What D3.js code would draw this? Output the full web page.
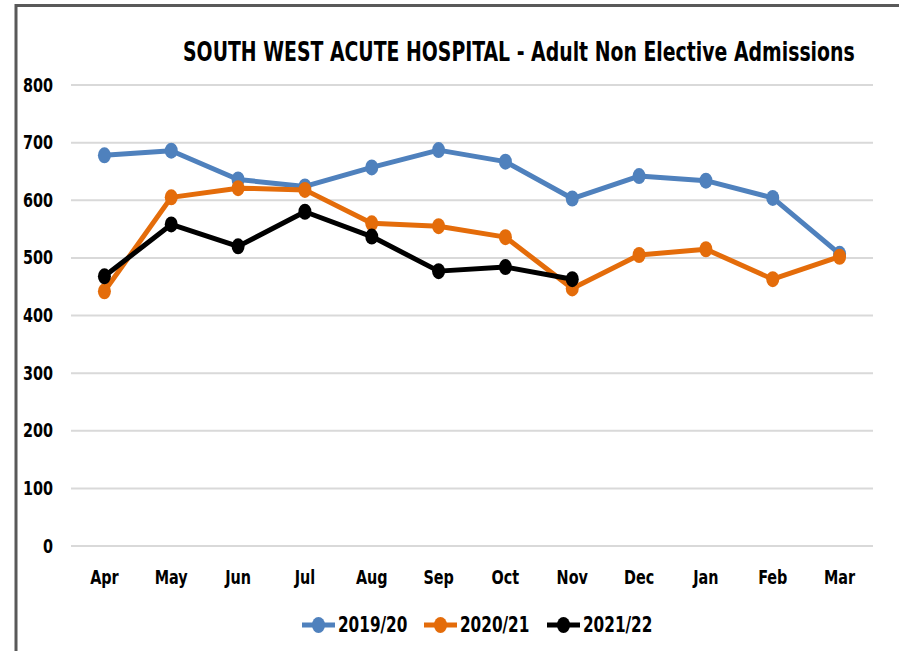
<!DOCTYPE html>
<html>
<head>
<meta charset="utf-8">
<script src="https://cdn.jsdelivr.net/npm/d3@7"></script>
<style>
  body { margin: 0; background: #fff; }
  text { font-family: "Liberation Sans Narrow", "DejaVu Sans Condensed", "Liberation Sans", sans-serif; font-weight: bold; fill: #000; }
</style>
</head>
<body>
<script>
// data
var months = ["Apr", "May", "Jun", "Jul", "Aug", "Sep", "Oct", "Nov", "Dec", "Jan", "Feb", "Mar"];
var seriesNames = ["2019/20", "2020/21", "2021/22"];
var v2019 = [678, 686, 636, 624, 657, 687, 667, 603, 642, 634, 604, 507];
var v2020 = [442, 605, 621, 618, 560, 555, 536, 447, 505, 515, 463, 502];
var v2021 = [468, 558, 520, 580, 537, 477, 484, 463];
var yTicks = [0, 100, 200, 300, 400, 500, 600, 700, 800];
var colors = ["#4f81bd", "#e46c0a", "#000000"];

var W = 899, H = 651;
var plot = {left: 71, right: 873, top: 85, bottom: 546};

var svg = d3.select("body").append("svg")
            .attr("width", W)
            .attr("height", H);

// outer frame (top and left edges visible)
svg.append("line").attr("x1", 16).attr("x2", W).attr("y1", 5.5).attr("y2", 5.5)
   .attr("stroke", "#595959").attr("stroke-width", 3);
svg.append("line").attr("x1", 16).attr("x2", 16).attr("y1", 4).attr("y2", H)
   .attr("stroke", "#595959").attr("stroke-width", 3);

var x = d3.scaleBand()
          .domain(months)
          .range([plot.left, plot.right]);

var y = d3.scaleLinear()
          .domain([0, 800])
          .range([plot.bottom, plot.top]);

// gridlines
svg.append("g")
   .selectAll("line")
   .data(yTicks)
   .enter()
   .append("line")
   .attr("x1", plot.left)
   .attr("x2", plot.right)
   .attr("y1", function(d) { return y(d); })
   .attr("y2", function(d) { return y(d); })
   .attr("stroke", "#d9d9d9")
   .attr("stroke-width", 2);

// y axis
var yAxis = svg.append("g")
               .attr("transform", "translate(" + (plot.left - 14) + ",0)")
               .call(d3.axisLeft(y).tickValues(yTicks).tickSize(0).tickPadding(4));
yAxis.select(".domain").remove();
yAxis.selectAll("text")
     .style("font-size", "16px")
     .attr("dy", null)
     .attr("transform", "translate(-4,6) scale(1,1.2)")
     .attr("x", 0);

// x axis
var xAxis = svg.append("g")
               .attr("transform", "translate(0," + (plot.bottom + 38) + ")")
               .call(d3.axisBottom(x).tickSize(0).tickPadding(0));
xAxis.select(".domain").remove();
xAxis.selectAll("text")
     .style("font-size", "16px")
     .attr("dy", null)
     .attr("y", 0)
     .attr("transform", "scale(1,1.2)");

// title: fit the width, then stretch to the reference's letter height
var title = svg.append("g");
var titleText = title.append("text")
   .style("font-size", "27px")
   .text("SOUTH WEST ACUTE HOSPITAL - Adult Non Elective Admissions");
var fs = 27 * 672 / titleText.node().getComputedTextLength();
titleText.style("font-size", fs + "px");
title.attr("transform", "translate(183,61) scale(1," + (20 / (0.73 * fs)) + ")");

// series
var allSeries = [v2019, v2020, v2021];
var line = d3.line()
             .x(function(d, i) { return x(months[i]) + x.bandwidth() / 2; })
             .y(function(d) { return y(d); });

allSeries.forEach(function(vals, s) {
    var g = svg.append("g");
    g.append("path")
     .datum(vals)
     .attr("d", line)
     .attr("fill", "none")
     .attr("stroke", colors[s])
     .attr("stroke-width", 5)
     .attr("stroke-linejoin", "round");
    g.selectAll("ellipse")
     .data(vals)
     .enter()
     .append("ellipse")
     .attr("cx", function(d, i) { return x(months[i]) + x.bandwidth() / 2; })
     .attr("cy", function(d) { return y(d); })
     .attr("rx", 6.5)
     .attr("ry", 8)
     .attr("fill", colors[s]);
});

// legend
var legendX = [302, 424, 547];
var legendY = 625;
var legend = svg.selectAll("g.legendEntry")
                .data(seriesNames)
                .enter()
                .append("g")
                .attr("class", "legendEntry")
                .attr("transform", function(d, i) { return "translate(" + legendX[i] + "," + legendY + ")"; });
legend.append("line")
      .attr("x1", 0).attr("x2", 33)
      .attr("y1", 0).attr("y2", 0)
      .attr("stroke", function(d, i) { return colors[i]; })
      .attr("stroke-width", 5);
legend.append("ellipse")
      .attr("cx", 16.5).attr("cy", 0)
      .attr("rx", 6.5).attr("ry", 8)
      .attr("fill", function(d, i) { return colors[i]; });
legend.append("text")
      .attr("x", 36)
      .attr("y", 0)
      .attr("transform", "translate(0,7) scale(1,1.2)")
      .style("font-size", "17px")
      .text(function(d) { return d; });
</script>
</body>
</html>
